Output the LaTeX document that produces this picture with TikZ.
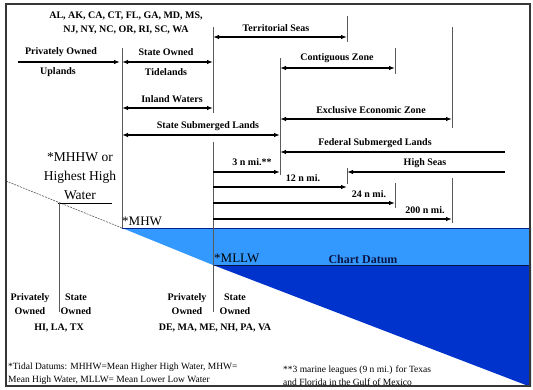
\documentclass[tikz,border=0pt]{standalone}
\usepackage{fontspec}
\setmainfont{Liberation Serif}
\usetikzlibrary{arrows.meta}
\definecolor{shallow}{RGB}{51,153,255}
\definecolor{deep}{RGB}{0,51,204}
\definecolor{limit}{RGB}{90,90,90}
\definecolor{navy}{RGB}{10,20,70}

\begin{document}
\begin{tikzpicture}[
  x=1pt,y=-1pt,
  lbl/.style={font=\bfseries\fontsize{10}{14}\selectfont,inner sep=0pt,align=center},
  big/.style={font=\fontsize{13.5}{19}\selectfont,inner sep=0pt,align=center},
  tidemark/.style={font=\fontsize{13}{14}\selectfont,inner sep=0pt,anchor=west},
  note/.style={font=\fontsize{9.5}{13}\selectfont,inner sep=0pt,align=left,anchor=west},
  bound/.style={draw=limit,line width=1pt},
  arr/.style={-{Latex[length=6pt,width=4.5pt]},line width=1.2pt},
  darr/.style={{Latex[length=6pt,width=4.5pt]}-{Latex[length=6pt,width=4.5pt]},line width=1.2pt}
]
\useasboundingbox (0,0) rectangle (533,389);

% water
\fill[shallow] (122,228) -- (531,228) -- (531,265) -- (213,265) -- cycle;
\fill[deep] (213,265) -- (531,265) -- (531,387) -- cycle;
\draw[deep!70!black,line width=0.6pt] (122,228) -- (531,228);
\draw[navy,line width=0.6pt] (213,265) -- (531,265);

% coast
\coordinate (shoreA) at (6,181);
\coordinate (shoreB) at (122,228);
\draw[limit,line width=0.6pt,dash pattern=on 2pt off 1pt] (shoreA) -- (shoreB);

% boundary lines
\coordinate (stTop) at (122,48);
\coordinate (tsTop) at (213,27);   \coordinate (tsBot) at (213,113);
\coordinate (czTop) at (280,58);   \coordinate (czBot) at (280,175);
\coordinate (tsEndT) at (347,16);  \coordinate (tsEndB) at (347,42);
\coordinate (czEndT) at (395,48);  \coordinate (czEndB) at (395,74);
\coordinate (ezEndT) at (452,27);  \coordinate (ezEndB) at (452,128);
\coordinate (hsT) at (347,168);    \coordinate (hsB) at (347,184);
\coordinate (m24T) at (395,183);   \coordinate (m24B) at (395,208);
\coordinate (m200T) at (452,178);  \coordinate (m200B) at (452,223);
\coordinate (baseT) at (213,142);  \coordinate (baseB) at (213,312);
\coordinate (hhwL) at (58,203);    \coordinate (hhwR) at (112,203);
\coordinate (hhwB) at (59,312);

\draw[bound] (stTop) -- (shoreB);
\draw[bound] (tsTop) -- (tsBot);
\draw[bound] (czTop) -- (czBot);
\draw[bound] (tsEndT) -- (tsEndB);
\draw[bound] (czEndT) -- (czEndB);
\draw[bound] (ezEndT) -- (ezEndB);
\draw[bound] (hsT) -- (hsB);
\draw[bound] (m24T) -- (m24B);
\draw[bound] (m200T) -- (m200B);
\draw[bound] (baseT) -- (baseB);
\draw[line width=1pt] (hhwL) -- (hhwR);
\draw[bound] (hhwL -| hhwB) -- (hhwB);

% zone arrows
\coordinate (upL) at (18,62);
\draw[arr] (upL) -- (120,62);
\draw[darr] (stTop |- upL) -- (tsTop |- upL);
\draw[darr] (tsTop |- 0,37) -- (tsEndT |- 0,37);
\draw[darr] (czTop |- 0,68) -- (czEndT |- 0,68);
\draw[darr] (stTop |- 0,108) -- (tsTop |- 0,108);
\draw[darr] (czTop |- 0,119) -- (ezEndT |- 0,119);
\draw[darr] (stTop |- 0,135) -- (czTop |- 0,135);
\coordinate (fedR) at (505,152);
\coordinate (hsR) at (505,172);
\draw[arr] (fedR) -- (czTop |- fedR);
\draw[arr] (hsR) -- (hsT |- hsR);
\draw[arr] (baseT |- 0,172) -- (czTop |- 0,172);
\draw[arr] (baseT |- 0,187) -- (hsT |- 0,187);
\draw[arr] (baseT |- 0,203) -- (m24T |- 0,203);
\draw[arr] (baseT |- 0,219) -- (m200T |- 0,219);

% labels
\node[lbl] (states) at (126,23) {AL, AK, CA, CT, FL, GA, MD, MS,\\NJ, NY, NC, OR, RI, SC, WA};
\node[lbl] (terr) at (276,28) {Territorial Seas};
\node[lbl] (priv) at (61,52) {Privately Owned};
\node[lbl] (upl) at (58,72) {Uplands};
\node[lbl] (sown) at (166,52) {State Owned};
\node[lbl] (tide) at (166,72) {Tidelands};
\node[lbl] (inland) at (172,99) {Inland Waters};
\node[lbl] (contig) at (337,58) {Contiguous Zone};
\node[lbl] (eez) at (371,110) {Exclusive Economic Zone};
\node[lbl] (ssl) at (208,126) {State Submerged Lands};
\node[lbl] (fsl) at (375,143) {Federal Submerged Lands};
\node[lbl] (high) at (425,163) {High Seas};
\node[lbl] (n3) at (252,162) {3 n mi.**};
\node[lbl] (n12) at (303,178) {12 n mi.};
\node[lbl] (n24) at (369,194) {24 n mi.};
\node[lbl] (n200) at (425,210) {200 n mi.};

\node[big] (mhhw) at (80,176) {*MHHW or\\Highest High\\Water};
\node[tidemark] (mhw) at (122,221) {*MHW};
\node[tidemark] (mllw) at (214,258) {*MLLW};
\node[lbl,text=navy,font=\bfseries\fontsize{12}{14}\selectfont] (datum) at (363,259) {Chart Datum};

\node[lbl] (privA) at (30,304) {Privately\\Owned};
\node[lbl] (stA) at (76,304) {State\\Owned};
\node[lbl] (grpA) at (59,328) {HI, LA, TX};
\node[lbl] (privB) at (187,304) {Privately\\Owned};
\node[lbl] (stB) at (235,304) {State\\Owned};
\node[lbl] (grpB) at (215,328) {DE, MA, ME, NH, PA, VA};

\node[note] (fnA) at (8,374) {*Tidal Datums: MHHW=Mean Higher High Water, MHW=\\Mean High Water, MLLW= Mean Lower Low Water};
\node[note] (fnB) at (283,376) {**3 marine leagues (9 n mi.) for Texas\\and Florida in the Gulf of Mexico};

% frame
\draw[limit!60!black,line width=2pt] (6,4) rectangle (530,386);
\end{tikzpicture}
\end{document}
